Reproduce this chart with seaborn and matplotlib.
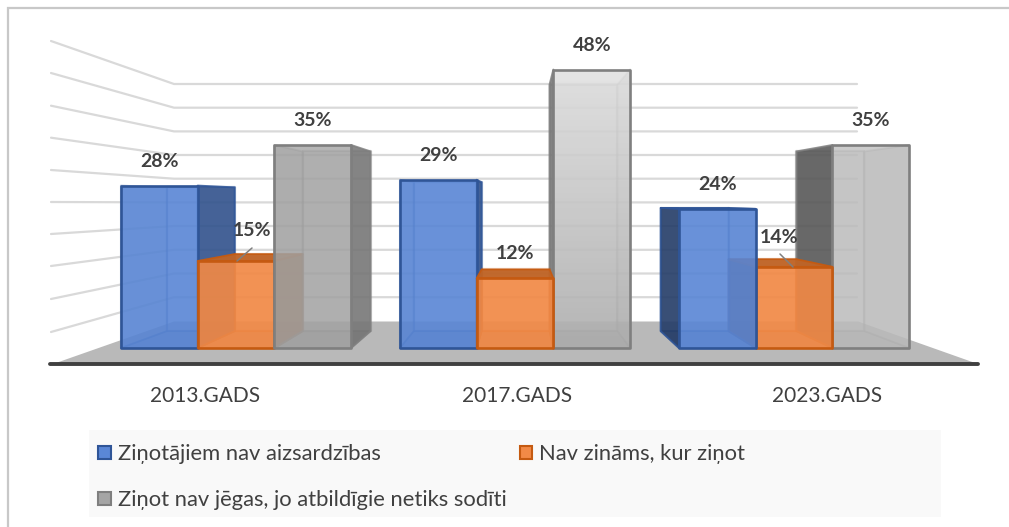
import numpy as np
import pandas as pd
import seaborn as sns
import matplotlib
matplotlib.use("Agg")
import matplotlib.pyplot as plt
from matplotlib.patches import Polygon, Rectangle, Patch
from matplotlib.colors import to_rgb

years = ["2013.GADS", "2017.GADS", "2023.GADS"]
series_names = ["Ziņotājiem nav aizsardzības", "Nav zināms, kur ziņot",
                "Ziņot nav jēgas, jo atbildīgie netiks sodīti"]
blue_values = [28, 29, 24]
orange_values = [15, 12, 14]
gray_values = [35, 48, 35]

fills = ["#4472C4", "#ED7D31", "#A5A5A5"]
fronts = ["#5A87D6", "#F28A47", "#A5A5A5"]
edges = ["#2F5597", "#C55A11", "#7F7F7F"]
TEXT = "#404040"

W, H = 1009, 527
sns.set_theme(style="white")
plt.rcParams["font.family"] = ["Lato", "DejaVu Sans"]

fig = plt.figure(figsize=(W / 100, H / 100), dpi=100)
PX_PER_UNIT = 5.8       # vertical pixels per percentage point
PX_PER_CAT = 279.0      # horizontal pixels per category
X0_PX, Y0_PX = 236.0, 348.0
L, R, B, T = 50, 978, 364, 10
ax = fig.add_axes([L / W, 1 - B / H, (R - L) / W, (B - T) / H])
ax.patch.set_alpha(0)

def dx(px):
    return (px - X0_PX) / PX_PER_CAT

def dy(py):
    return (Y0_PX - py) / PX_PER_UNIT

# perspective of the box depth
S = 0.885
VX, VY = dx(520), dy(201)

def back(x, y):
    return VX + S * (x - VX), VY + S * (y - VY)

# page furniture
fig.add_artist(Rectangle((8 / W, -0.01), 1.1, 1 - 8 / H + 0.01, transform=fig.transFigure,
                         facecolor="white", edgecolor="#C8C8C8", lw=1.6, zorder=-2))
fig.add_artist(Rectangle((88.5 / W, 1 - 517 / H), (941 - 88.5) / W, 87 / H, transform=fig.transFigure,
                         facecolor="#F9F9F9", edgecolor="none", zorder=-1))

df = pd.DataFrame({
    "year": years * 3,
    "series": np.repeat(series_names, 3),
    "value": blue_values + orange_values + gray_values,
})
sns.barplot(data=df, x="year", y="value", hue="series", hue_order=series_names,
            order=years, palette=fronts, width=0.825, gap=0, legend=False, saturation=1, ax=ax)

# walls and floor
GRID = "#D9D9D9"
wall_left = [41, 73, 105.7, 137.7, 170, 202, 234, 266, 299, 332]
wall_back = [84, 107.7, 131.4, 155, 178.7, 202.4, 226, 249.8, 273.5, 297.2]
for yl, yb in zip(wall_left, wall_back):
    ax.plot([dx(51), dx(174), dx(857)], [dy(yl), dy(yb), dy(yb)], color=GRID, lw=1.6, zorder=1,
            solid_capstyle="round")
ax.add_patch(Polygon([(dx(53), dy(364)), (dx(174), dy(321.5)), (dx(858), dy(321.5)), (dx(978), dy(364))],
                     closed=True, facecolor="#B9B9B9", edgecolor="none", zorder=1.5))

# draw order of the boxes, per category (later = nearer the viewer)
ranks = [[0, 1, 2], [0, 2, 1], [2, 1, 0]]
front_alpha = [0.85, 0.88, 0.8]

def shade(c, f):
    return tuple(v * f for v in to_rgb(c))

for h in range(3):
    for c, bar in enumerate(ax.containers[h]):
        z = 3 + ranks[c][h]
        x0, x1 = bar.get_x(), bar.get_x() + bar.get_width()
        top = bar.get_height()
        bx0, by0 = back(x0, 0)
        bx1, _ = back(x1, 0)
        _, bt = back(x0, top)
        kw = dict(closed=True, joinstyle="round")
        # back face
        ax.add_patch(Polygon([(bx0, by0), (bx1, by0), (bx1, bt), (bx0, bt)], facecolor=fills[h], alpha=0.35,
                             edgecolor=edges[h], lw=1.6, zorder=z, **kw))
        # floor of box
        ax.add_patch(Polygon([(x0, 0), (x1, 0), (bx1, by0), (bx0, by0)], facecolor=shade(fills[h], 0.85), alpha=0.5,
                             edgecolor=edges[h], lw=1.2, zorder=z + 0.01, **kw))
        # outer side faces are dark, inner ones are faint
        right_out = x1 < VX and bx1 > x1
        left_out = x0 > VX and bx0 < x0
        darker = 0.7 if c != 2 else 0.5
        for xa, xb, out in ((x0, bx0, left_out), (x1, bx1, right_out)):
            ax.add_patch(Polygon([(xa, 0), (xb, by0), (xb, bt), (xa, top)],
                                 facecolor=shade(fills[h], darker if out else 0.85),
                                 alpha=0.85 if out else 0.35, edgecolor=edges[h], lw=1.4, zorder=z + 0.02, **kw))
        # lid when seen from above
        if top < VY:
            ax.add_patch(Polygon([(x0, top), (x1, top), (bx1, bt), (bx0, bt)], facecolor=shade(fills[h], 0.8),
                                 alpha=0.95, edgecolor=edges[h], lw=1.2, zorder=z + 0.03, **kw))
        # front face: the seaborn bar itself
        bar.set_facecolor(to_rgb(fronts[h]) + (front_alpha[h],))
        bar.set_edgecolor(edges[h])
        bar.set_linewidth(1.9)
        bar.set_zorder(z + 0.05)
        bar.set_joinstyle("round")
        # value labels
        cx = (x0 + x1) / 2
        special = {(1, 0): (16.5, 30), (1, 2): (-14.5, 29)}
        off = special.get((h, c), (0, 24.5))
        ax.annotate(f"{top:.0f}%", xy=(cx, top), xytext=(off[0] * 0.72, off[1] * 0.72),
                    textcoords="offset points", ha="center", va="center", fontsize=14,
                    fontweight="bold", color=TEXT, zorder=10, annotation_clip=False)

# leader lines for the two labels moved off their bars
for (c, h, x_a, y_a, x_b, y_b) in [(0, 1, 252, 248, 237, 261), (2, 1, 780, 254, 793, 267)]:
    ax.plot([dx(x_a), dx(x_b)], [dy(y_a), dy(y_b)], color="#7F7F7F", lw=1.1, zorder=9)

# grey boxes differ in lightness; the central one fades towards its top
g = ax.containers[2][1]
grad = np.linspace(0, 1, 128).reshape(-1, 1)
im = ax.imshow(grad, cmap=matplotlib.colors.LinearSegmentedColormap.from_list("g", ["#E0E0E0", "#AEAEAE"]),
               extent=(g.get_x(), g.get_x() + g.get_width(), 0, g.get_height()), aspect="auto",
               zorder=g.get_zorder() - 0.01, alpha=0.85)
im.set_clip_path(g)
g.set_facecolor("none")
ax.containers[2][2].set_facecolor(to_rgb("#BEBEBE") + (0.78,))
ax.containers[2][0].set_facecolor(to_rgb("#A2A2A2") + (0.78,))

ax.set_xlim(dx(L), dx(R))
ax.set_ylim(dy(B), dy(T))
ax.set_yticks([])
ax.set_ylabel("")
ax.set_xlabel("")
ax.set_xticks([dx(205), dx(517), dx(827)], years)
ax.tick_params(axis="x", length=0, pad=15.5, labelsize=15, labelcolor=TEXT)
for s in ("top", "left", "right"):
    ax.spines[s].set_visible(False)
ax.spines["bottom"].set_color("#404040")
ax.spines["bottom"].set_linewidth(2.8)
ax.spines["bottom"].set_capstyle("round")

handles = [Patch(facecolor=fronts[i], edgecolor=edges[i], lw=1.5) for i in (0, 2, 1)]
labels = [series_names[i] for i in (0, 2, 1)]
fig.legend(handles, labels, ncols=2, loc="upper left", bbox_to_anchor=(94 / W, 1 - 440 / H),
           frameon=False, fontsize=15.8, labelcolor=TEXT, handlelength=0.58, handleheight=0.58,
           handletextpad=0.3, labelspacing=1.18, columnspacing=0.6, borderpad=0.2, borderaxespad=0)

fig.savefig("out.png", dpi=100)
